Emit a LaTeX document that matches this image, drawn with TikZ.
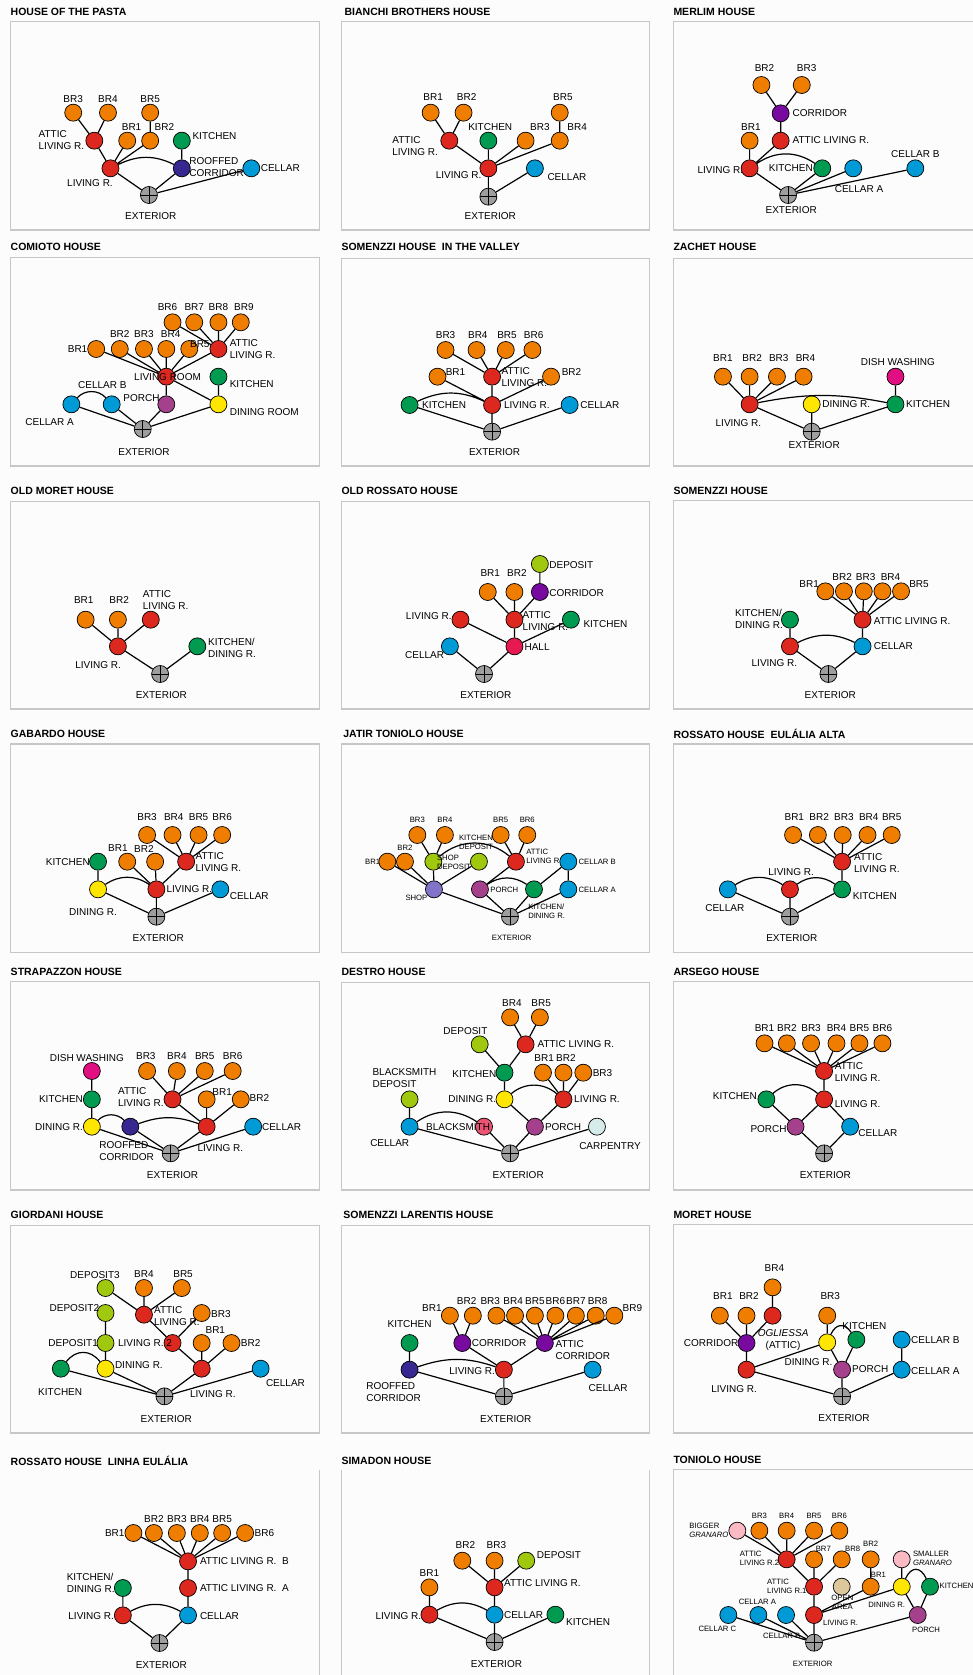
\documentclass[tikz,border=0pt]{standalone}
\usepackage{fontspec}
\setmainfont{Liberation Sans}
\definecolor{brOrange}{RGB}{239,125,0}
\definecolor{lrRed}{RGB}{220,40,30}
\definecolor{kitGreen}{RGB}{0,155,80}
\definecolor{celBlue}{RGB}{0,155,215}
\definecolor{corPurple}{RGB}{120,10,160}
\definecolor{roofNavy}{RGB}{55,40,145}
\definecolor{dishPink}{RGB}{225,15,130}
\definecolor{dinYellow}{RGB}{255,230,0}
\definecolor{depLime}{RGB}{160,200,15}
\definecolor{porMauve}{RGB}{165,65,140}
\definecolor{hallRed}{RGB}{230,25,80}
\definecolor{shopLilac}{RGB}{130,115,200}
\definecolor{smithRose}{RGB}{235,85,115}
\definecolor{carpIce}{RGB}{215,235,235}
\definecolor{granPink}{RGB}{250,185,195}
\definecolor{openSand}{RGB}{220,200,155}
\begin{document}
\begin{tikzpicture}[x=0.62054pt, y=-0.33333pt,
  rm/.style={circle, draw=black, line width=0.7pt, minimum size=17pt, inner sep=0pt},
  br/.style={rm, fill=brOrange},
  lr/.style={rm, fill=lrRed},
  kit/.style={rm, fill=kitGreen},
  cel/.style={rm, fill=celBlue},
  cor/.style={rm, fill=corPurple},
  roof/.style={rm, fill=roofNavy},
  dish/.style={rm, fill=dishPink},
  din/.style={rm, fill=dinYellow},
  dep/.style={rm, fill=depLime},
  por/.style={rm, fill=porMauve},
  hall/.style={rm, fill=hallRed},
  shop/.style={rm, fill=shopLilac},
  smith/.style={rm, fill=smithRose},
  carp/.style={rm, fill=carpIce},
  gran/.style={rm, fill=granPink},
  open/.style={rm, fill=openSand},
  ext/.style={rm, fill=black!38, path picture={
    \draw[line width=0.7pt] (path picture bounding box.north) -- (path picture bounding box.south)
      (path picture bounding box.west) -- (path picture bounding box.east);}},
  lbl/.style={font=\fontsize{10}{12}\selectfont, inner sep=0pt, align=left},
  tt/.style={font=\fontsize{10.5}{12}\selectfont\bfseries, inner sep=0pt, anchor=west},
  box/.style={draw=black!22, line width=1.2pt},
  ln/.style={line width=1.2pt}]

\path[use as bounding box] (0pt,0pt) rectangle (973pt,-1675pt);
\clip (0pt,0pt) rectangle (973pt,-1675pt);
\fill[black!1] (0pt,0pt) rectangle (973pt,-1675pt);

%%% row 1
% house of the pasta
\node[tt] (a-t) at (17,35) {HOUSE OF THE PASTA};
\draw[box] (17,65) rectangle (515,690);
\node[br] (a-br3) at (118,338) {};
\node[br] (a-br4) at (174,338) {};
\node[br] (a-br5) at (242,338) {};
\node[lr] (a-att) at (152,422) {};
\node[br] (a-br1) at (205,422) {};
\node[br] (a-br2) at (242,422) {};
\node[kit] (a-kit) at (293,422) {};
\node[lr] (a-liv) at (178,505) {};
\node[roof] (a-roof) at (293,505) {};
\node[cel] (a-cel) at (405,505) {};
\node[ext] (a-ext) at (240,585) {};
\node[lbl] (a-br3l) at (118,298) {BR3};
\node[lbl] (a-br4l) at (174,298) {BR4};
\node[lbl] (a-br5l) at (242,298) {BR5};
\node[lbl, anchor=west] (a-attl) at (62,420) {ATTIC\\LIVING R.};
\node[lbl] (a-br1l) at (212,380) {BR1};
\node[lbl] (a-br2l) at (265,380) {BR2};
\node[lbl, anchor=west] (a-kitl) at (310,408) {KITCHEN};
\node[lbl] (a-livl) at (145,548) {LIVING R.};
\node[lbl, anchor=west] (a-roofl) at (305,500) {ROOFFED\\CORRIDOR};
\node[lbl, anchor=west] (a-cell) at (420,505) {CELLAR};
\node[lbl] (a-extl) at (243,648) {EXTERIOR};
\draw[ln] (a-br3) -- (a-att) (a-br4) -- (a-att) (a-att) -- (a-liv)
  (a-br1) -- (a-liv) (a-br2) -- (a-liv) (a-br5) -- (a-br2) (a-kit) -- (a-roof)
  (a-liv) to[bend left=26] (a-roof)
  (a-liv) -- (a-ext) (a-roof) -- (a-ext) (a-cel) -- (a-ext);

% bianchi brothers house
\node[tt] (b-t) at (555,35) {BIANCHI BROTHERS HOUSE};
\draw[box] (550,65) rectangle (1047,690);
\node[br] (b-br1) at (694,338) {};
\node[br] (b-br2) at (747,338) {};
\node[br] (b-br5) at (902,338) {};
\node[lr] (b-att) at (724,422) {};
\node[kit] (b-kit) at (787,422) {};
\node[br] (b-br3) at (847,422) {};
\node[br] (b-br4) at (902,422) {};
\node[lr] (b-liv) at (787,505) {};
\node[cel] (b-cel) at (862,505) {};
\node[ext] (b-ext) at (787,590) {};
\node[lbl] (b-br1l) at (698,290) {BR1};
\node[lbl] (b-br2l) at (752,290) {BR2};
\node[lbl] (b-br5l) at (907,290) {BR5};
\node[lbl, anchor=west] (b-attl) at (632,438) {ATTIC\\LIVING R.};
\node[lbl] (b-kitl) at (790,380) {KITCHEN};
\node[lbl] (b-br3l) at (870,380) {BR3};
\node[lbl] (b-br4l) at (930,380) {BR4};
\node[lbl, anchor=east] (b-livl) at (776,525) {LIVING R.};
\node[lbl, anchor=west] (b-cell) at (882,532) {CELLAR};
\node[lbl] (b-extl) at (790,648) {EXTERIOR};
\draw[ln] (b-br1) -- (b-att) (b-br2) -- (b-att) (b-att) -- (b-liv) (b-kit) -- (b-liv)
  (b-br3) -- (b-liv) (b-br4) -- (b-liv) (b-br5) -- (b-br4)
  (b-liv) -- (b-ext) (b-cel) -- (b-ext);

% merlim house
\node[tt] (c-t) at (1085,35) {MERLIM HOUSE};
\draw[box] (1085,65) rectangle (1640,690);
\node[br] (c-br2) at (1227,255) {};
\node[br] (c-br3) at (1292,255) {};
\node[cor] (c-cor) at (1258,340) {};
\node[br] (c-br1) at (1208,422) {};
\node[lr] (c-att) at (1258,422) {};
\node[lr] (c-liv) at (1208,505) {};
\node[kit] (c-kit) at (1325,505) {};
\node[cel] (c-cla) at (1375,505) {};
\node[cel] (c-clb) at (1475,505) {};
\node[ext] (c-ext) at (1270,585) {};
\node[lbl] (c-br2l) at (1232,205) {BR2};
\node[lbl] (c-br3l) at (1300,205) {BR3};
\node[lbl, anchor=west] (c-corl) at (1277,340) {CORRIDOR};
\node[lbl] (c-br1l) at (1210,380) {BR1};
\node[lbl, anchor=west] (c-attl) at (1277,420) {ATTIC LIVING R.};
\node[lbl, anchor=east] (c-livl) at (1198,510) {LIVING R.};
\node[lbl, anchor=east] (c-kitl) at (1310,505) {KITCHEN};
\node[lbl, anchor=west] (c-clal) at (1345,568) {CELLAR A};
\node[lbl] (c-clbl) at (1475,462) {CELLAR B};
\node[lbl] (c-extl) at (1275,630) {EXTERIOR};
\draw[ln] (c-br2) -- (c-cor) (c-br3) -- (c-cor) (c-cor) -- (c-att) (c-att) -- (c-liv)
  (c-br1) -- (c-liv) (c-liv) to[bend left=34] (c-kit)
  (c-liv) -- (c-ext) (c-kit) -- (c-ext) (c-cla) -- (c-ext) (c-clb) -- (c-ext);

%%% row 2
\begin{scope}[yshift=-235pt]
% comioto house
\node[tt] (d-t) at (17,35) {COMIOTO HOUSE};
\draw[box] (17,68) rectangle (515,693);
\node[br] (d-br6) at (278,262) {};
\node[br] (d-br7) at (313,262) {};
\node[br] (d-br8) at (352,262) {};
\node[br] (d-br9) at (388,262) {};
\node[br] (d-br1) at (155,342) {};
\node[br] (d-br2) at (193,342) {};
\node[br] (d-br3) at (232,342) {};
\node[br] (d-br4) at (268,342) {};
\node[br] (d-br5) at (305,342) {};
\node[lr] (d-att) at (352,342) {};
\node[lr] (d-liv) at (268,425) {};
\node[kit] (d-kit) at (352,425) {};
\node[cel] (d-cla) at (115,508) {};
\node[cel] (d-clb) at (180,508) {};
\node[por] (d-por) at (268,508) {};
\node[din] (d-din) at (352,508) {};
\node[ext] (d-ext) at (230,582) {};
\node[lbl] (d-br6l) at (270,215) {BR6};
\node[lbl] (d-br7l) at (313,215) {BR7};
\node[lbl] (d-br8l) at (352,215) {BR8};
\node[lbl] (d-br9l) at (393,215) {BR9};
\node[lbl, anchor=east] (d-br1l) at (141,342) {BR1};
\node[lbl] (d-br2l) at (193,298) {BR2};
\node[lbl] (d-br3l) at (232,298) {BR3};
\node[lbl] (d-br4l) at (275,298) {BR4};
\node[lbl] (d-br5l) at (322,328) {BR5};
\node[lbl, anchor=west] (d-attl) at (370,342) {ATTIC\\LIVING R.};
\node[lbl] (d-livl) at (270,425) {LIVING ROOM};
\node[lbl, anchor=west] (d-kitl) at (370,448) {KITCHEN};
\node[lbl] (d-clal) at (80,562) {CELLAR A};
\node[lbl] (d-clbl) at (165,450) {CELLAR B};
\node[lbl] (d-porl) at (228,490) {PORCH};
\node[lbl, anchor=west] (d-dinl) at (370,532) {DINING ROOM};
\node[lbl] (d-extl) at (232,652) {EXTERIOR};
\draw[ln] (d-br6) -- (d-att) (d-br7) -- (d-att) (d-br8) -- (d-att) (d-br9) -- (d-att)
  (d-br1) -- (d-liv) (d-br2) -- (d-liv) (d-br3) -- (d-liv) (d-br4) -- (d-liv)
  (d-br5) -- (d-liv) (d-att) -- (d-liv) (d-liv) -- (d-por) (d-liv) -- (d-din)
  (d-kit) -- (d-din) (d-cla) to[bend left=48] (d-clb)
  (d-cla) -- (d-ext) (d-clb) -- (d-ext) (d-por) -- (d-ext) (d-din) -- (d-ext);

% somenzzi house in the valley
\node[tt] (e-t) at (550,35) {SOMENZZI HOUSE \ IN THE VALLEY};
\draw[box] (550,70) rectangle (1047,693);
\node[br] (e-br3) at (718,345) {};
\node[br] (e-br4) at (768,345) {};
\node[br] (e-br5) at (815,345) {};
\node[br] (e-br6) at (858,345) {};
\node[br] (e-br1) at (705,425) {};
\node[lr] (e-att) at (793,425) {};
\node[br] (e-br2) at (888,425) {};
\node[kit] (e-kit) at (660,510) {};
\node[lr] (e-liv) at (793,510) {};
\node[cel] (e-cel) at (918,510) {};
\node[ext] (e-ext) at (793,590) {};
\node[lbl] (e-br3l) at (718,300) {BR3};
\node[lbl] (e-br4l) at (770,300) {BR4};
\node[lbl] (e-br5l) at (817,300) {BR5};
\node[lbl] (e-br6l) at (860,300) {BR6};
\node[lbl, anchor=west] (e-br1l) at (718,412) {BR1};
\node[lbl, anchor=west] (e-attl) at (808,427) {ATTIC\\LIVING R.};
\node[lbl, anchor=west] (e-br2l) at (905,412) {BR2};
\node[lbl, anchor=west] (e-kitl) at (680,510) {KITCHEN};
\node[lbl, anchor=west] (e-livl) at (812,510) {LIVING R.};
\node[lbl, anchor=west] (e-cell) at (935,510) {CELLAR};
\node[lbl] (e-extl) at (797,652) {EXTERIOR};
\draw[ln] (e-br3) -- (e-att) (e-br4) -- (e-att) (e-br5) -- (e-att) (e-br6) -- (e-att)
  (e-att) -- (e-liv) (e-br1) -- (e-liv) (e-br2) -- (e-liv)
  (e-kit) to[bend left=25] (e-liv)
  (e-kit) -- (e-ext) (e-liv) -- (e-ext) (e-cel) -- (e-ext);

% zachet house
\node[tt] (f-t) at (1085,35) {ZACHET HOUSE};
\draw[box] (1085,70) rectangle (1640,693);
\node[br] (f-br1) at (1165,425) {};
\node[br] (f-br2) at (1208,425) {};
\node[br] (f-br3) at (1252,425) {};
\node[br] (f-br4) at (1295,425) {};
\node[dish] (f-dish) at (1443,425) {};
\node[lr] (f-liv) at (1208,508) {};
\node[din] (f-din) at (1308,508) {};
\node[kit] (f-kit) at (1443,508) {};
\node[ext] (f-ext) at (1308,590) {};
\node[lbl] (f-br1l) at (1165,370) {BR1};
\node[lbl] (f-br2l) at (1212,370) {BR2};
\node[lbl] (f-br3l) at (1255,370) {BR3};
\node[lbl] (f-br4l) at (1298,370) {BR4};
\node[lbl] (f-dishl) at (1447,380) {DISH WASHING};
\node[lbl] (f-livl) at (1190,565) {LIVING R.};
\node[lbl, anchor=west] (f-dinl) at (1325,508) {DINING R.};
\node[lbl, anchor=west] (f-kitl) at (1460,508) {KITCHEN};
\node[lbl] (f-extl) at (1312,630) {EXTERIOR};
\draw[ln] (f-br1) -- (f-liv) (f-br2) -- (f-liv) (f-br3) -- (f-liv) (f-br4) -- (f-liv)
  (f-liv) to[bend left=11] (f-kit) (f-dish) -- (f-kit)
  (f-liv) -- (f-ext) (f-din) -- (f-ext) (f-kit) -- (f-ext);
\end{scope}

%%% row 3
\begin{scope}[yshift=-478pt]
% old moret house
\node[tt] (g-t) at (17,38) {OLD MORET HOUSE};
\draw[box] (17,70) rectangle (515,693);
\node[br] (g-br1) at (138,425) {};
\node[br] (g-br2) at (190,425) {};
\node[lr] (g-att) at (243,425) {};
\node[lr] (g-liv) at (190,505) {};
\node[kit] (g-kit) at (318,505) {};
\node[ext] (g-ext) at (258,588) {};
\node[lbl] (g-br1l) at (135,365) {BR1};
\node[lbl] (g-br2l) at (192,365) {BR2};
\node[lbl, anchor=west] (g-attl) at (230,367) {ATTIC\\LIVING R.};
\node[lbl] (g-livl) at (158,560) {LIVING R.};
\node[lbl, anchor=west] (g-kitl) at (335,511) {KITCHEN/\\DINING R.};
\node[lbl] (g-extl) at (260,650) {EXTERIOR};
\draw[ln] (g-br1) -- (g-liv) (g-br2) -- (g-liv) (g-att) -- (g-liv)
  (g-liv) -- (g-ext) (g-kit) -- (g-ext);

% old rossato house
\node[tt] (h-t) at (550,38) {OLD ROSSATO HOUSE};
\draw[box] (550,70) rectangle (1047,693);
\node[dep] (h-dep) at (870,258) {};
\node[br] (h-br1) at (786,342) {};
\node[br] (h-br2) at (829,342) {};
\node[cor] (h-cor) at (870,342) {};
\node[lr] (h-liv) at (742,425) {};
\node[lr] (h-att) at (829,425) {};
\node[kit] (h-kit) at (920,425) {};
\node[cel] (h-cel) at (725,505) {};
\node[hall] (h-hall) at (829,505) {};
\node[ext] (h-ext) at (780,588) {};
\node[lbl, anchor=west] (h-depl) at (885,262) {DEPOSIT};
\node[lbl] (h-br1l) at (790,285) {BR1};
\node[lbl] (h-br2l) at (833,285) {BR2};
\node[lbl, anchor=west] (h-corl) at (885,345) {CORRIDOR};
\node[lbl, anchor=east] (h-livl) at (728,415) {LIVING R.};
\node[lbl, anchor=west] (h-attl) at (842,428) {ATTIC\\LIVING R.};
\node[lbl, anchor=west] (h-kitl) at (940,438) {KITCHEN};
\node[lbl, anchor=east] (h-cell) at (716,532) {CELLAR};
\node[lbl, anchor=west] (h-halll) at (845,508) {HALL};
\node[lbl] (h-extl) at (783,650) {EXTERIOR};
\draw[ln] (h-dep) -- (h-cor) (h-br1) -- (h-att) (h-br2) -- (h-att) (h-cor) -- (h-att)
  (h-liv) -- (h-hall) (h-att) -- (h-hall) (h-kit) -- (h-hall)
  (h-cel) -- (h-ext) (h-hall) -- (h-ext);

% somenzzi house
\node[tt] (i-t) at (1085,38) {SOMENZZI HOUSE};
\draw[box] (1085,68) rectangle (1640,693);
\node[br] (i-br1) at (1330,340) {};
\node[br] (i-br2) at (1360,340) {};
\node[br] (i-br3) at (1392,340) {};
\node[br] (i-br4) at (1422,340) {};
\node[br] (i-br5) at (1452,340) {};
\node[kit] (i-kit) at (1273,425) {};
\node[lr] (i-att) at (1390,425) {};
\node[lr] (i-liv) at (1273,505) {};
\node[cel] (i-cel) at (1390,505) {};
\node[ext] (i-ext) at (1335,588) {};
\node[lbl, anchor=east] (i-br1l) at (1320,318) {BR1};
\node[lbl] (i-br2l) at (1357,298) {BR2};
\node[lbl] (i-br3l) at (1395,298) {BR3};
\node[lbl] (i-br4l) at (1435,298) {BR4};
\node[lbl, anchor=west] (i-br5l) at (1465,318) {BR5};
\node[lbl, anchor=east] (i-kitl) at (1262,422) {KITCHEN/\\DINING R.};
\node[lbl, anchor=west] (i-attl) at (1408,428) {ATTIC LIVING R.};
\node[lbl] (i-livl) at (1248,555) {LIVING R.};
\node[lbl, anchor=west] (i-cell) at (1408,505) {CELLAR};
\node[lbl] (i-extl) at (1338,650) {EXTERIOR};
\draw[ln] (i-br1) -- (i-att) (i-br2) -- (i-att) (i-br3) -- (i-att) (i-br4) -- (i-att)
  (i-br5) -- (i-att) (i-att) -- (i-cel) (i-kit) -- (i-liv)
  (i-liv) to[bend left=26] (i-cel)
  (i-liv) -- (i-ext) (i-cel) -- (i-ext);
\end{scope}

%%% row 4
\begin{scope}[yshift=-720pt]
% gabardo house
\node[tt] (j-t) at (17,42) {GABARDO HOUSE};
\draw[box] (17,72) rectangle (515,697);
\node[br] (j-br3) at (237,345) {};
\node[br] (j-br4) at (278,345) {};
\node[br] (j-br5) at (320,345) {};
\node[br] (j-br6) at (358,345) {};
\node[kit] (j-kit) at (158,425) {};
\node[br] (j-br1) at (205,425) {};
\node[br] (j-br2) at (250,425) {};
\node[lr] (j-att) at (300,425) {};
\node[din] (j-din) at (158,508) {};
\node[lr] (j-liv) at (252,508) {};
\node[cel] (j-cel) at (355,508) {};
\node[ext] (j-ext) at (252,590) {};
\node[lbl] (j-br3l) at (237,292) {BR3};
\node[lbl] (j-br4l) at (280,292) {BR4};
\node[lbl] (j-br5l) at (320,292) {BR5};
\node[lbl] (j-br6l) at (358,292) {BR6};
\node[lbl, anchor=east] (j-kitl) at (145,425) {KITCHEN};
\node[lbl] (j-br1l) at (190,385) {BR1};
\node[lbl] (j-br2l) at (232,388) {BR2};
\node[lbl, anchor=west] (j-attl) at (315,427) {ATTIC\\LIVING R.};
\node[lbl] (j-dinl) at (150,575) {DINING R.};
\node[lbl, anchor=west] (j-livl) at (268,508) {LIVING R.};
\node[lbl, anchor=west] (j-cell) at (370,528) {CELLAR};
\node[lbl] (j-extl) at (255,655) {EXTERIOR};
\draw[ln] (j-br3) -- (j-att) (j-br4) -- (j-att) (j-br5) -- (j-att) (j-br6) -- (j-att)
  (j-att) -- (j-liv) (j-br1) -- (j-liv) (j-br2) -- (j-liv) (j-kit) -- (j-din)
  (j-din) to[bend left=34] (j-liv)
  (j-din) -- (j-ext) (j-liv) -- (j-ext) (j-cel) -- (j-ext);

% jatir toniolo house
\node[tt] (k-t) at (553,42) {JATIR TONIOLO HOUSE};
\draw[box] (550,72) rectangle (1047,697);
\begin{scope}[lbl/.append style={font=\fontsize{7.7}{9}\selectfont}]
\node[br] (k-br3) at (672.5,345) {};
\node[br] (k-br4) at (717,345) {};
\node[br] (k-br5) at (806.8,345) {};
\node[br] (k-br6) at (849.7,345) {};
\node[br] (k-br1) at (624.2,425) {};
\node[br] (k-br2) at (652.6,425) {};
\node[dep] (k-sdep) at (698.3,425) {};
\node[dep] (k-kdep) at (771.8,425) {};
\node[lr] (k-att) at (831.4,425) {};
\node[cel] (k-clb) at (915.8,425) {};
\node[shop] (k-shop) at (699.3,508) {};
\node[por] (k-por) at (773.4,508) {};
\node[kit] (k-kd) at (860.5,508) {};
\node[cel] (k-cla) at (915.8,508) {};
\node[ext] (k-ext) at (821.8,590) {};
\node[lbl] (k-br3l) at (672.5,300) {BR3};
\node[lbl] (k-br4l) at (717,300) {BR4};
\node[lbl] (k-br5l) at (806.8,300) {BR5};
\node[lbl] (k-br6l) at (849.7,300) {BR6};
\node[lbl, anchor=east] (k-br1l) at (613,425) {BR1};
\node[lbl] (k-br2l) at (652.6,383) {BR2};
\node[lbl, anchor=west] (k-sdepl) at (704,428) {SHOP\\DEPOSIT};
\node[lbl] (k-kdepl) at (767,367) {KITCHEN\\DEPOSIT};
\node[lbl, anchor=west] (k-attl) at (848,409) {ATTIC\\LIVING R};
\node[lbl, anchor=west] (k-clbl) at (932,427) {CELLAR B};
\node[lbl, anchor=east] (k-shopl) at (689,535) {SHOP};
\node[lbl, anchor=west] (k-porl) at (790,510) {PORCH};
\node[lbl, anchor=west] (k-kdl) at (851,573) {KITCHEN/\\DINING R.};
\node[lbl, anchor=west] (k-clal) at (932,510) {CELLAR A};
\node[lbl] (k-extl) at (824.5,653) {EXTERIOR};
\end{scope}
\draw[ln] (k-br3) -- (k-sdep) (k-br4) -- (k-sdep) (k-br5) -- (k-att) (k-br6) -- (k-att)
  (k-sdep) to[bend left=40] (k-att)
  (k-br1) -- (k-shop) (k-br2) -- (k-shop) (k-sdep) -- (k-shop) (k-kdep) -- (k-shop)
  (k-att) -- (k-por) (k-por) to[bend left=34] (k-kd) (k-clb) -- (k-kd) (k-clb) -- (k-cla)
  (k-shop) -- (k-ext) (k-por) -- (k-ext) (k-kd) -- (k-ext) (k-cla) -- (k-ext);

% rossato house eulalia alta
\node[tt] (l-t) at (1085,42) {ROSSATO HOUSE \ EULÁLIA ALTA};
\draw[box] (1085,72) rectangle (1640,697);
\node[br] (l-br1) at (1278,345) {};
\node[br] (l-br2) at (1318,345) {};
\node[br] (l-br3) at (1358,345) {};
\node[br] (l-br4) at (1398,345) {};
\node[br] (l-br5) at (1437,345) {};
\node[lr] (l-att) at (1357,425) {};
\node[cel] (l-cel) at (1173,508) {};
\node[lr] (l-liv) at (1273,508) {};
\node[kit] (l-kit) at (1357,508) {};
\node[ext] (l-ext) at (1273,590) {};
\node[lbl] (l-br1l) at (1280,292) {BR1};
\node[lbl] (l-br2l) at (1320,292) {BR2};
\node[lbl] (l-br3l) at (1360,292) {BR3};
\node[lbl] (l-br4l) at (1400,292) {BR4};
\node[lbl] (l-br5l) at (1437,292) {BR5};
\node[lbl, anchor=west] (l-attl) at (1376,430) {ATTIC\\LIVING R.};
\node[lbl] (l-cell) at (1168,565) {CELLAR};
\node[lbl] (l-livl) at (1275,455) {LIVING R.};
\node[lbl, anchor=west] (l-kitl) at (1374,528) {KITCHEN};
\node[lbl] (l-extl) at (1276,655) {EXTERIOR};
\draw[ln] (l-br1) -- (l-att) (l-br2) -- (l-att) (l-br3) -- (l-att) (l-br4) -- (l-att)
  (l-br5) -- (l-att) (l-att) -- (l-kit)
  (l-cel) to[bend left=32] (l-liv) (l-liv) to[bend left=36] (l-kit)
  (l-cel) -- (l-ext) (l-liv) -- (l-ext) (l-kit) -- (l-ext);
\end{scope}

%%% row 5
\begin{scope}[yshift=-960pt]
% strapazzon house
\node[tt] (m-t) at (17,35) {STRAPAZZON HOUSE};
\draw[box] (17,65) rectangle (515,690);
\node[dish] (m-dish) at (148,333) {};
\node[br] (m-br3) at (237,333) {};
\node[br] (m-br4) at (285,333) {};
\node[br] (m-br5) at (330,333) {};
\node[br] (m-br6) at (375,333) {};
\node[kit] (m-kit) at (148,418) {};
\node[lr] (m-att) at (278,418) {};
\node[br] (m-br1) at (333,418) {};
\node[br] (m-br2) at (388,418) {};
\node[din] (m-din) at (148,500) {};
\node[roof] (m-roof) at (210,500) {};
\node[lr] (m-liv) at (333,500) {};
\node[cel] (m-cel) at (408,500) {};
\node[ext] (m-ext) at (275,580) {};
\node[lbl] (m-dishl) at (140,293) {DISH WASHING};
\node[lbl] (m-br3l) at (235,287) {BR3};
\node[lbl] (m-br4l) at (285,287) {BR4};
\node[lbl] (m-br5l) at (330,287) {BR5};
\node[lbl] (m-br6l) at (375,287) {BR6};
\node[lbl, anchor=east] (m-kitl) at (134,418) {KITCHEN};
\node[lbl, anchor=west] (m-attl) at (190,412) {ATTIC\\LIVING R.};
\node[lbl] (m-br1l) at (358,395) {BR1};
\node[lbl, anchor=west] (m-br2l) at (402,415) {BR2};
\node[lbl, anchor=east] (m-dinl) at (134,502) {DINING R.};
\node[lbl, anchor=west] (m-roofl) at (160,572) {ROOFFED\\CORRIDOR};
\node[lbl] (m-livl) at (355,565) {LIVING R.};
\node[lbl, anchor=west] (m-cell) at (422,502) {CELLAR};
\node[lbl] (m-extl) at (278,645) {EXTERIOR};
\draw[ln] (m-dish) -- (m-kit) (m-kit) -- (m-din)
  (m-br3) -- (m-att) (m-br4) -- (m-att) (m-br5) -- (m-att) (m-br6) -- (m-att)
  (m-att) -- (m-liv) (m-br1) -- (m-liv) (m-br2) -- (m-liv)
  (m-din) to[bend left=46] (m-roof) (m-roof) to[bend left=20] (m-liv)
  (m-din) -- (m-ext) (m-roof) -- (m-ext) (m-liv) -- (m-ext) (m-cel) -- (m-ext);

% destro house
\node[tt] (n-t) at (550,35) {DESTRO HOUSE};
\draw[box] (550,68) rectangle (1047,690);
\node[br] (n-br4) at (822,172) {};
\node[br] (n-br5) at (870,172) {};
\node[dep] (n-dep) at (773,253) {};
\node[lr] (n-att) at (847,253) {};
\node[kit] (n-kit) at (813,338) {};
\node[br] (n-br1) at (875,338) {};
\node[br] (n-br2) at (908,338) {};
\node[br] (n-br3) at (940,338) {};
\node[dep] (n-sdep) at (660,418) {};
\node[din] (n-din) at (813,418) {};
\node[lr] (n-liv) at (908,418) {};
\node[cel] (n-cel) at (660,500) {};
\node[smith] (n-smith) at (780,500) {};
\node[por] (n-por) at (862,500) {};
\node[carp] (n-carp) at (962,500) {};
\node[ext] (n-ext) at (822,580) {};
\node[lbl] (n-br4l) at (825,128) {BR4};
\node[lbl] (n-br5l) at (872,128) {BR5};
\node[lbl] (n-depl) at (750,212) {DEPOSIT};
\node[lbl, anchor=west] (n-attl) at (866,253) {ATTIC LIVING R.};
\node[lbl, anchor=east] (n-kitl) at (800,342) {KITCHEN};
\node[lbl] (n-br1l) at (877,295) {BR1};
\node[lbl] (n-br2l) at (912,295) {BR2};
\node[lbl, anchor=west] (n-br3l) at (955,340) {BR3};
\node[lbl, anchor=west] (n-sdepl) at (600,353) {BLACKSMITH\\DEPOSIT};
\node[lbl, anchor=east] (n-dinl) at (800,418) {DINING R.};
\node[lbl, anchor=west] (n-livl) at (925,418) {LIVING R.};
\node[lbl] (n-cell) at (628,548) {CELLAR};
\node[lbl, anchor=east] (n-smithl) at (790,500) {BLACKSMITH};
\node[lbl, anchor=west] (n-porl) at (878,500) {PORCH};
\node[lbl] (n-carpl) at (983,558) {CARPENTRY};
\node[lbl] (n-extl) at (835,645) {EXTERIOR};
\draw[ln] (n-br4) -- (n-att) (n-br5) -- (n-att) (n-dep) -- (n-kit) (n-att) -- (n-kit)
  (n-kit) -- (n-din) (n-br1) -- (n-liv) (n-br2) -- (n-liv) (n-br3) -- (n-liv)
  (n-din) to[bend left=40] (n-liv) (n-din) -- (n-por) (n-liv) -- (n-por)
  (n-sdep) -- (n-cel) (n-cel) to[bend left=34] (n-smith)
  (n-cel) -- (n-ext) (n-smith) -- (n-ext) (n-por) -- (n-ext) (n-carp) -- (n-ext);

% arsego house
\node[tt] (o-t) at (1085,35) {ARSEGO HOUSE};
\draw[box] (1085,65) rectangle (1640,690);
\node[br] (o-br1) at (1232,250) {};
\node[br] (o-br2) at (1268,250) {};
\node[br] (o-br3) at (1307,250) {};
\node[br] (o-br4) at (1348,250) {};
\node[br] (o-br5) at (1385,250) {};
\node[br] (o-br6) at (1422,250) {};
\node[lr] (o-att) at (1328,333) {};
\node[kit] (o-kit) at (1235,418) {};
\node[lr] (o-liv) at (1328,418) {};
\node[por] (o-por) at (1282,500) {};
\node[cel] (o-cel) at (1370,500) {};
\node[ext] (o-ext) at (1328,580) {};
\node[lbl] (o-br1l) at (1232,205) {BR1};
\node[lbl] (o-br2l) at (1268,205) {BR2};
\node[lbl] (o-br3l) at (1307,205) {BR3};
\node[lbl] (o-br4l) at (1348,205) {BR4};
\node[lbl] (o-br5l) at (1385,205) {BR5};
\node[lbl] (o-br6l) at (1422,205) {BR6};
\node[lbl, anchor=west] (o-attl) at (1345,337) {ATTIC\\LIVING R.};
\node[lbl, anchor=east] (o-kitl) at (1220,408) {KITCHEN};
\node[lbl, anchor=west] (o-livl) at (1345,433) {LIVING R.};
\node[lbl, anchor=east] (o-porl) at (1268,508) {PORCH};
\node[lbl, anchor=west] (o-cell) at (1383,520) {CELLAR};
\node[lbl] (o-extl) at (1330,645) {EXTERIOR};
\draw[ln] (o-br1) -- (o-att) (o-br2) -- (o-att) (o-br3) -- (o-att) (o-br4) -- (o-att)
  (o-br5) -- (o-att) (o-br6) -- (o-att) (o-att) -- (o-liv)
  (o-kit) to[bend left=42] (o-liv) (o-kit) -- (o-por) (o-liv) -- (o-por) (o-liv) -- (o-cel)
  (o-por) -- (o-ext) (o-cel) -- (o-ext);
\end{scope}

%%% row 6
\begin{scope}[yshift=-1203pt]
% giordani house
\node[tt] (p-t) at (17,35) {GIORDANI HOUSE};
\draw[box] (17,68) rectangle (515,690);
\node[dep] (p-dep3) at (170,255) {};
\node[br] (p-br4) at (232,255) {};
\node[br] (p-br5) at (293,255) {};
\node[dep] (p-dep2) at (170,330) {};
\node[lr] (p-att) at (232,335) {};
\node[br] (p-br3) at (325,330) {};
\node[dep] (p-dep1) at (170,420) {};
\node[lr] (p-liv2) at (278,420) {};
\node[br] (p-br1) at (325,420) {};
\node[br] (p-br2) at (373,420) {};
\node[kit] (p-kit) at (98,497) {};
\node[din] (p-din) at (170,497) {};
\node[lr] (p-liv) at (325,497) {};
\node[cel] (p-cel) at (420,497) {};
\node[ext] (p-ext) at (265,580) {};
\node[lbl] (p-dep3l) at (153,215) {DEPOSIT3};
\node[lbl] (p-br4l) at (232,212) {BR4};
\node[lbl] (p-br5l) at (295,212) {BR5};
\node[lbl, anchor=east] (p-dep2l) at (160,315) {DEPOSIT2};
\node[lbl, anchor=west] (p-attl) at (248,338) {ATTIC\\LIVING R.};
\node[lbl, anchor=west] (p-br3l) at (340,333) {BR3};
\node[lbl, anchor=east] (p-dep1l) at (158,420) {DEPOSIT1};
\node[lbl, anchor=west] (p-liv2l) at (190,420) {LIVING R. 2};
\node[lbl] (p-br1l) at (347,382) {BR1};
\node[lbl, anchor=west] (p-br2l) at (388,420) {BR2};
\node[lbl] (p-kitl) at (97,568) {KITCHEN};
\node[lbl, anchor=west] (p-dinl) at (185,485) {DINING R.};
\node[lbl] (p-livl) at (343,572) {LIVING R.};
\node[lbl] (p-cell) at (460,540) {CELLAR};
\node[lbl] (p-extl) at (268,648) {EXTERIOR};
\draw[ln] (p-dep3) -- (p-att) (p-br4) -- (p-att) (p-br5) -- (p-att)
  (p-dep2) -- (p-dep1) (p-dep1) -- (p-din)
  (p-att) -- (p-liv2) (p-br3) -- (p-liv2) (p-liv2) -- (p-liv) (p-br1) -- (p-liv) (p-br2) -- (p-liv)
  (p-kit) to[bend left=52, looseness=1.2] (p-din)
  (p-kit) -- (p-ext) (p-din) -- (p-ext) (p-liv) -- (p-ext) (p-cel) -- (p-ext);

% somenzzi larentis house
\node[tt] (q-t) at (553,35) {SOMENZZI LARENTIS HOUSE};
\draw[box] (550,68) rectangle (1047,690);
\node[br] (q-br1) at (725,338) {};
\node[br] (q-br2) at (762,338) {};
\node[br] (q-br3) at (800,338) {};
\node[br] (q-br4) at (830,338) {};
\node[br] (q-br5) at (862,338) {};
\node[br] (q-br6) at (895,338) {};
\node[br] (q-br7) at (928,338) {};
\node[br] (q-br8) at (960,338) {};
\node[br] (q-br9) at (990,338) {};
\node[kit] (q-kit) at (660,420) {};
\node[cor] (q-cor) at (745,420) {};
\node[cor] (q-acor) at (878,420) {};
\node[roof] (q-roof) at (660,500) {};
\node[lr] (q-liv) at (812,500) {};
\node[cel] (q-cel) at (955,500) {};
\node[ext] (q-ext) at (812,580) {};
\node[lbl, anchor=east] (q-br1l) at (712,315) {BR1};
\node[lbl] (q-br2l) at (752,293) {BR2};
\node[lbl] (q-br3l) at (790,293) {BR3};
\node[lbl] (q-br4l) at (827,293) {BR4};
\node[lbl] (q-br5l) at (862,293) {BR5};
\node[lbl] (q-br6l) at (895,293) {BR6};
\node[lbl] (q-br7l) at (928,293) {BR7};
\node[lbl] (q-br8l) at (963,293) {BR8};
\node[lbl, anchor=west] (q-br9l) at (1003,315) {BR9};
\node[lbl] (q-kitl) at (660,362) {KITCHEN};
\node[lbl, anchor=west] (q-corl) at (760,420) {CORRIDOR};
\node[lbl, anchor=west] (q-acorl) at (895,440) {ATTIC\\CORRIDOR};
\node[lbl, anchor=west] (q-roofl) at (590,567) {ROOFFED\\CORRIDOR};
\node[lbl, anchor=east] (q-livl) at (798,503) {LIVING R.};
\node[lbl] (q-cell) at (980,555) {CELLAR};
\node[lbl] (q-extl) at (815,648) {EXTERIOR};
\draw[ln] (q-br1) -- (q-cor) (q-br2) -- (q-cor)
  (q-br3) -- (q-acor) (q-br4) -- (q-acor) (q-br5) -- (q-acor) (q-br6) -- (q-acor)
  (q-br7) -- (q-acor) (q-br8) -- (q-acor) (q-br9) -- (q-acor)
  (q-kit) -- (q-roof) (q-roof) to[bend left=19] (q-liv) (q-cor) -- (q-liv) (q-acor) -- (q-liv)
  (q-roof) -- (q-ext) (q-liv) -- (q-ext) (q-cel) -- (q-ext);

% moret house
\node[tt] (r-t) at (1085,35) {MORET HOUSE};
\draw[box] (1085,65) rectangle (1640,690);
\node[br] (r-br4) at (1245,253) {};
\node[br] (r-br1) at (1160,338) {};
\node[br] (r-br2) at (1203,338) {};
\node[lr] (r-ogl) at (1245,338) {};
\node[br] (r-br3) at (1333,338) {};
\node[cor] (r-cor) at (1203,420) {};
\node[din] (r-din) at (1333,418) {};
\node[kit] (r-kit) at (1380,410) {};
\node[cel] (r-clb) at (1453,410) {};
\node[lr] (r-liv) at (1203,500) {};
\node[por] (r-por) at (1357,500) {};
\node[cel] (r-cla) at (1453,500) {};
\node[ext] (r-ext) at (1357,580) {};
\node[lbl] (r-br4l) at (1248,195) {BR4};
\node[lbl] (r-br1l) at (1165,280) {BR1};
\node[lbl] (r-br2l) at (1207,280) {BR2};
\node[lbl, align=center] (r-ogll) at (1262,411) {\textit{OGLIESSA}\\(ATTIC)};
\node[lbl] (r-br3l) at (1338,280) {BR3};
\node[lbl, anchor=east] (r-corl) at (1190,420) {CORRIDOR};
\node[lbl] (r-dinl) at (1303,478) {DINING R.};
\node[lbl] (r-kitl) at (1393,368) {KITCHEN};
\node[lbl, anchor=west] (r-clbl) at (1468,410) {CELLAR B};
\node[lbl] (r-livl) at (1183,558) {LIVING R.};
\node[lbl, anchor=west] (r-porl) at (1373,498) {PORCH};
\node[lbl, anchor=west] (r-clal) at (1468,505) {CELLAR A};
\node[lbl] (r-extl) at (1360,645) {EXTERIOR};
\draw[ln] (r-br4) -- (r-ogl) (r-br1) -- (r-cor) (r-br2) -- (r-cor) (r-ogl) -- (r-cor)
  (r-cor) -- (r-liv) (r-br3) -- (r-din) (r-din) to[bend left=60, looseness=1.5] (r-kit)
  (r-liv) -- (r-din) (r-din) -- (r-por) (r-kit) -- (r-por) (r-clb) -- (r-cla)
  (r-liv) -- (r-ext) (r-por) -- (r-ext) (r-cla) -- (r-ext);
\end{scope}

%%% row 7
\begin{scope}[yshift=-1448pt]
% rossato house linha eulalia
\node[tt] (s-t) at (17,38) {ROSSATO HOUSE \ LINHA EULÁLIA};
\draw[box] (515,65) -- (515,700);
\node[br] (s-br1) at (215,255) {};
\node[br] (s-br2) at (248,255) {};
\node[br] (s-br3) at (285,255) {};
\node[br] (s-br4) at (322,255) {};
\node[br] (s-br5) at (358,255) {};
\node[br] (s-br6) at (395,255) {};
\node[lr] (s-attb) at (303,340) {};
\node[kit] (s-kit) at (198,420) {};
\node[lr] (s-atta) at (303,420) {};
\node[lr] (s-liv) at (198,502) {};
\node[cel] (s-cel) at (303,502) {};
\node[ext] (s-ext) at (257,585) {};
\node[lbl, anchor=east] (s-br1l) at (201,255) {BR1};
\node[lbl] (s-br2l) at (248,212) {BR2};
\node[lbl] (s-br3l) at (285,212) {BR3};
\node[lbl] (s-br4l) at (322,212) {BR4};
\node[lbl] (s-br5l) at (358,212) {BR5};
\node[lbl, anchor=west] (s-br6l) at (410,255) {BR6};
\node[lbl, anchor=west] (s-attbl) at (322,340) {ATTIC LIVING R. \ B};
\node[lbl, anchor=east] (s-kitl) at (185,405) {KITCHEN/\\DINING R.};
\node[lbl, anchor=west] (s-attal) at (322,420) {ATTIC LIVING R. \ A};
\node[lbl, anchor=east] (s-livl) at (184,505) {LIVING R.};
\node[lbl, anchor=west] (s-cell) at (322,505) {CELLAR};
\node[lbl] (s-extl) at (260,650) {EXTERIOR};
\draw[ln] (s-br1) -- (s-attb) (s-br2) -- (s-attb) (s-br3) -- (s-attb) (s-br4) -- (s-attb)
  (s-br5) -- (s-attb) (s-br6) -- (s-attb) (s-attb) -- (s-atta) (s-atta) -- (s-cel)
  (s-kit) -- (s-liv) (s-liv) to[bend left=28] (s-cel)
  (s-liv) -- (s-ext) (s-cel) -- (s-ext);

% simadon house
\node[tt] (t-t) at (550,38) {SIMADON HOUSE};
\draw[box] (550,65) -- (550,700) (1047,65) -- (1047,700);
\node[br] (t-br2) at (745,338) {};
\node[br] (t-br3) at (797,338) {};
\node[dep] (t-dep) at (848,338) {};
\node[br] (t-br1) at (692,418) {};
\node[lr] (t-att) at (797,418) {};
\node[lr] (t-liv) at (692,500) {};
\node[cel] (t-cel) at (797,500) {};
\node[kit] (t-kit) at (895,500) {};
\node[ext] (t-ext) at (797,582) {};
\node[lbl] (t-br2l) at (750,290) {BR2};
\node[lbl] (t-br3l) at (800,290) {BR3};
\node[lbl, anchor=west] (t-depl) at (865,320) {DEPOSIT};
\node[lbl] (t-br1l) at (692,375) {BR1};
\node[lbl, anchor=west] (t-attl) at (812,405) {ATTIC LIVING R.};
\node[lbl, anchor=east] (t-livl) at (679,505) {LIVING R.};
\node[lbl, anchor=west] (t-cell) at (812,500) {CELLAR};
\node[lbl, anchor=west] (t-kitl) at (912,522) {KITCHEN};
\node[lbl] (t-extl) at (800,648) {EXTERIOR};
\draw[ln] (t-br2) -- (t-att) (t-br3) -- (t-att) (t-dep) -- (t-att) (t-att) -- (t-cel)
  (t-br1) -- (t-liv) (t-liv) to[bend left=30] (t-cel)
  (t-liv) -- (t-ext) (t-cel) -- (t-ext) (t-kit) -- (t-ext);

% toniolo house
\node[tt] (u-t) at (1085,35) {TONIOLO HOUSE};
\draw[box] (1085,700) -- (1085,65) -- (1640,65);
\begin{scope}[lbl/.append style={font=\fontsize{7.7}{9}\selectfont}]
\node[gran] (u-bgr) at (1188.2,248) {};
\node[br] (u-br3) at (1223.7,248) {};
\node[br] (u-br4) at (1267.7,248) {};
\node[br] (u-br5) at (1311.8,248) {};
\node[br] (u-br6) at (1352.6,248) {};
\node[lr] (u-att2) at (1267.7,334) {};
\node[br] (u-br7) at (1311.8,334) {};
\node[br] (u-br8) at (1356.4,334) {};
\node[br] (u-br2) at (1403.1,334) {};
\node[gran] (u-sgr) at (1453.1,334) {};
\node[lr] (u-att1) at (1311.8,416) {};
\node[open] (u-open) at (1356.4,416) {};
\node[br] (u-br1) at (1403.1,416) {};
\node[din] (u-din) at (1453.1,416) {};
\node[kit] (u-kit) at (1498.7,416) {};
\node[cel] (u-clc) at (1173.7,501) {};
\node[cel] (u-cla) at (1222.1,501) {};
\node[cel] (u-clb) at (1266.7,501) {};
\node[lr] (u-liv) at (1311.8,501) {};
\node[por] (u-por) at (1478.9,501) {};
\node[ext] (u-ext) at (1311.8,584) {};
\node[lbl, anchor=east] (u-bgrl) at (1174,247) {BIGGER\\\textit{GRANARO}};
\node[lbl] (u-br3l) at (1223.7,204) {BR3};
\node[lbl] (u-br4l) at (1267.7,204) {BR4};
\node[lbl] (u-br5l) at (1311.8,204) {BR5};
\node[lbl] (u-br6l) at (1352.6,204) {BR6};
\node[lbl, anchor=east] (u-att2l) at (1256,332) {ATTIC\\LIVING R.2};
\node[lbl] (u-br7l) at (1326.8,301) {BR7};
\node[lbl] (u-br8l) at (1374.1,301) {BR8};
\node[lbl] (u-br2l) at (1403.1,288) {BR2};
\node[lbl, anchor=west] (u-sgrl) at (1471,332) {SMALLER\\\textit{GRANARO}};
\node[lbl, anchor=east] (u-att1l) at (1300,414) {ATTIC\\LIVING R.1};
\node[lbl, align=center] (u-openl) at (1357.5,463) {OPEN\\AREA};
\node[lbl] (u-br1l) at (1415.5,381) {BR1};
\node[lbl] (u-dinl) at (1428.9,469) {DINING R.};
\node[lbl, anchor=west] (u-kitl) at (1514,413) {KITCHEN};
\node[lbl] (u-clcl) at (1156,541) {CELLAR C};
\node[lbl] (u-clal) at (1220.5,461) {CELLAR A};
\node[lbl] (u-clbl) at (1259.7,563) {CELLAR B};
\node[lbl, anchor=west] (u-livl) at (1326,523) {LIVING R.};
\node[lbl] (u-porl) at (1492.3,544) {PORCH};
\node[lbl] (u-extl) at (1309.6,646) {EXTERIOR};
\end{scope}
\draw[ln] (u-bgr) -- (u-att2) (u-br3) -- (u-att2) (u-br4) -- (u-att2) (u-br5) -- (u-att2)
  (u-br6) -- (u-att2) (u-att2) -- (u-att1) (u-br7) -- (u-att1) (u-br8) -- (u-att1)
  (u-br2) -- (u-br1) (u-att1) -- (u-liv) (u-liv) -- (u-br1) (u-liv) -- (u-din)
  (u-sgr) -- (u-din) (u-din) to[bend left=65, looseness=1.7] (u-kit)
  (u-din) -- (u-por) (u-kit) -- (u-por)
  (u-clc) -- (u-ext) (u-cla) -- (u-ext) (u-clb) -- (u-ext) (u-liv) -- (u-ext) (u-por) -- (u-ext);
\end{scope}
\end{tikzpicture}
\end{document}
